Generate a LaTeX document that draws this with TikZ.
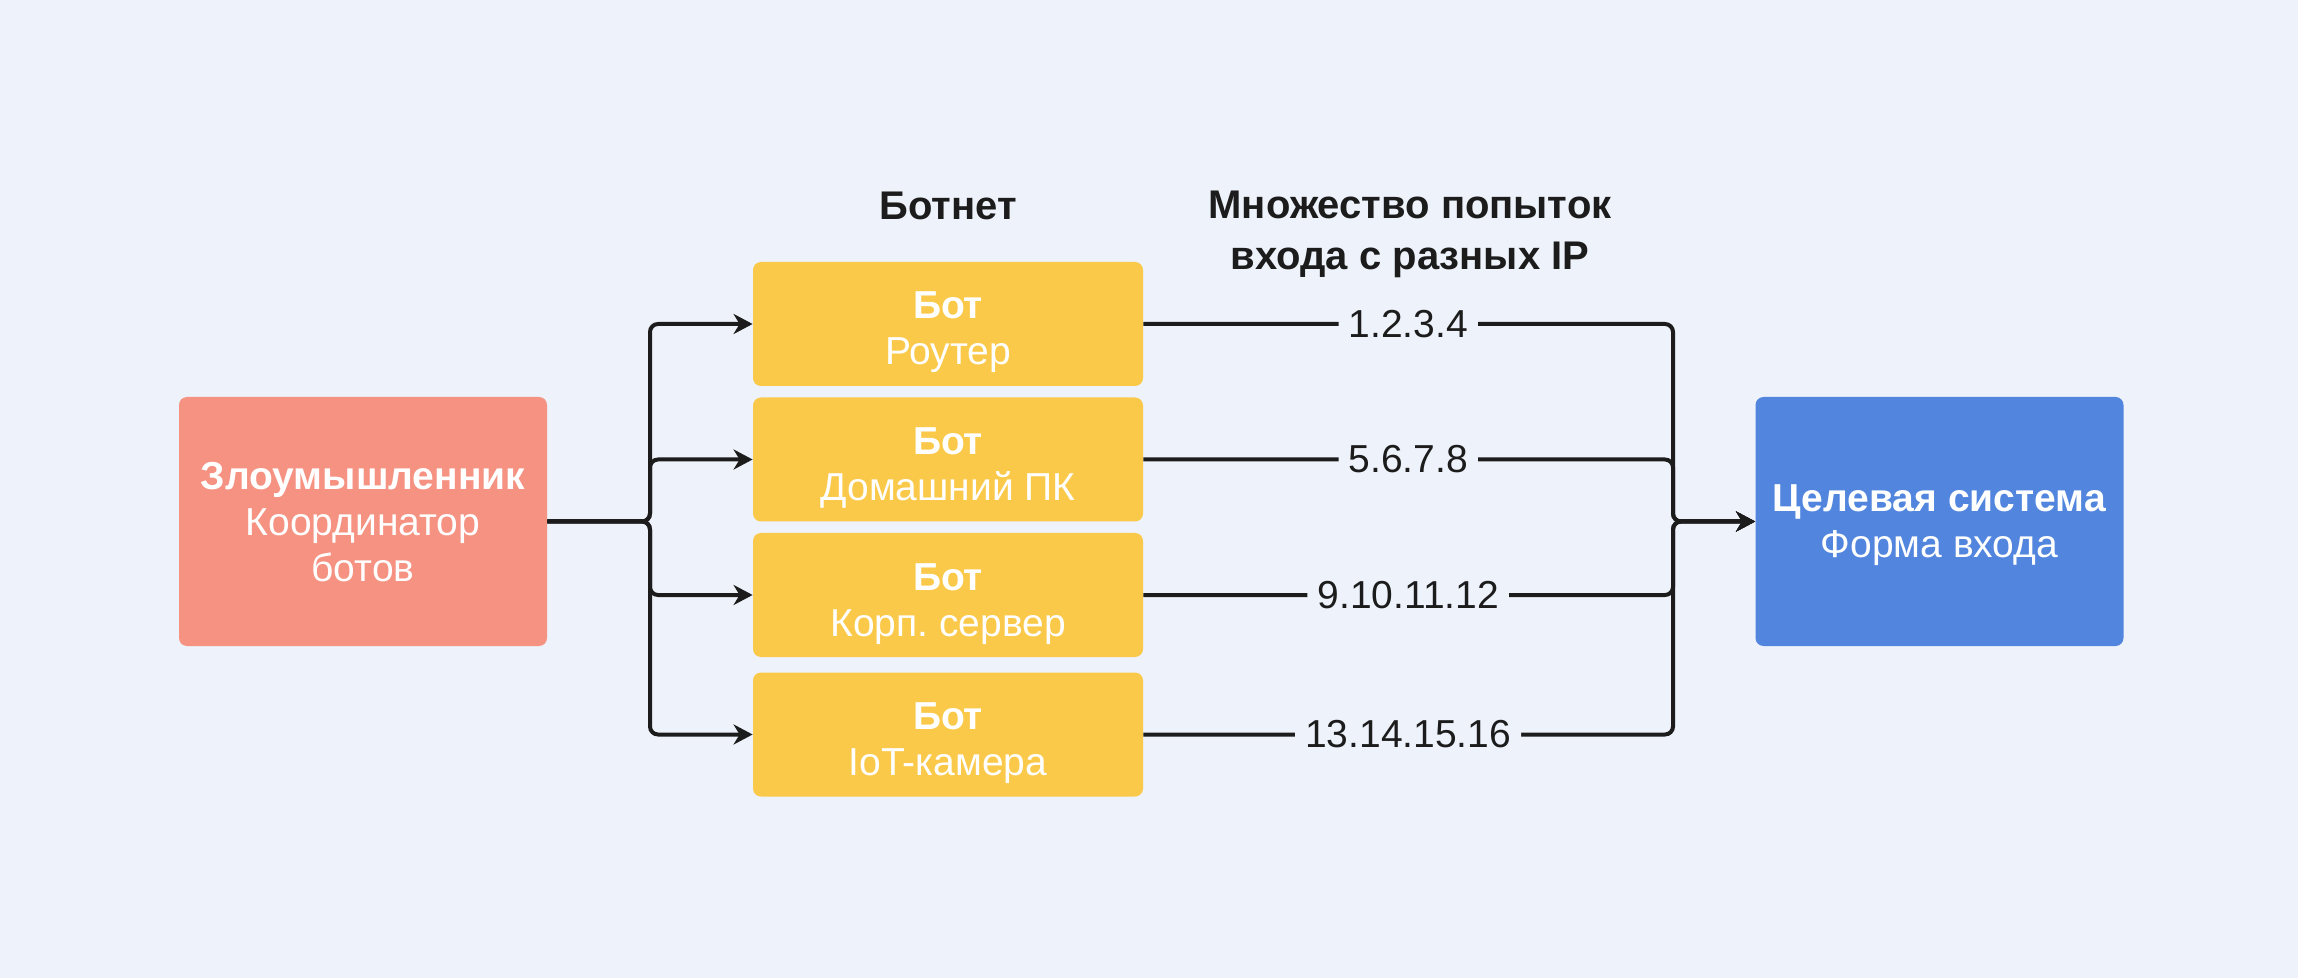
\documentclass[tikz,border=0pt]{standalone}
\usepackage{fontspec}
\setmainfont{Liberation Sans}
\usepackage{xcolor}
\usetikzlibrary{calc, arrows.meta}
\frenchspacing

\definecolor{bg}{HTML}{EEF2FA}
\definecolor{attackerred}{HTML}{F59282}
\definecolor{botyellow}{HTML}{FBC94A}
\definecolor{targetblue}{HTML}{5286DE}
\definecolor{ink}{HTML}{1C1C1C}

\newcommand{\lastline}[1]{\raisebox{0pt}[\height][0pt]{#1}}

\tikzset{
	box/.style={rounded corners=4pt, draw=none, text=white, align=center, inner sep=0pt, font=\fontsize{19.5pt}{23pt}\selectfont},
	botbox/.style={box, fill=botyellow, minimum width=195pt, minimum height=62pt},
	endbox/.style={box, minimum width=184pt, minimum height=124.5pt},
	heading/.style={text=ink, align=center, font=\bfseries\fontsize{20pt}{25.5pt}\selectfont},
	iplabel/.style={fill=bg, text=ink, inner xsep=5pt, inner ysep=2pt, font=\fontsize{19.5pt}{23pt}\selectfont},
	wire/.style={draw=ink, line width=2pt, rounded corners=4pt},
	arrow/.style={wire, -{Stealth[length=9.5pt, width=10pt, inset=3pt]}}
}

\begin{document}
\begin{tikzpicture}[x=0.5pt, y=-0.5pt]
		\fill[bg] (0,0) rectangle (2298,978);
		\useasboundingbox (0,0) rectangle (2298,978);
	
		\node[endbox, fill=attackerred] (attacker) at (363,521.5) {\textbf{Злоумышленник}\\Координатор\\\lastline{ботов}};
		\node[endbox, fill=targetblue] (target) at (1939.5,521.5) {\textbf{Целевая система}\\\lastline{Форма входа}};
	
		\foreach \i/\y/\kind in {1/324/Роутер, 2/459.5/Домашний ПК, 3/595/Корп. сервер, 4/734.5/IoT-камера}
			\node[botbox] (bot\i) at (948,\y) {\textbf{Бот}\rule{0pt}{18pt}\\\lastline{\kind}};
	
		\node[heading] (botnet) at (948,206) {Ботнет};
		\node[heading] (attempts) at (1410,234) {Множество попыток\\входа с разных IP};
	
		\coordinate (split) at (650,521.5);
		\coordinate (merge) at (1673,521.5);
	
		\foreach \i in {1,...,4}
		{
			\draw[arrow] (attacker.east) -- (split) |- (bot\i.west);
		}
	
		\foreach \i/\ip in {1/1.2.3.4, 2/5.6.7.8, 3/9.10.11.12, 4/13.14.15.16}
		{
			\draw[arrow] (bot\i.east) -- node[iplabel] (ip\i) {\ip} (bot\i.east -| merge) |- (target.west);
		}
	\end{tikzpicture}
\end{document}
